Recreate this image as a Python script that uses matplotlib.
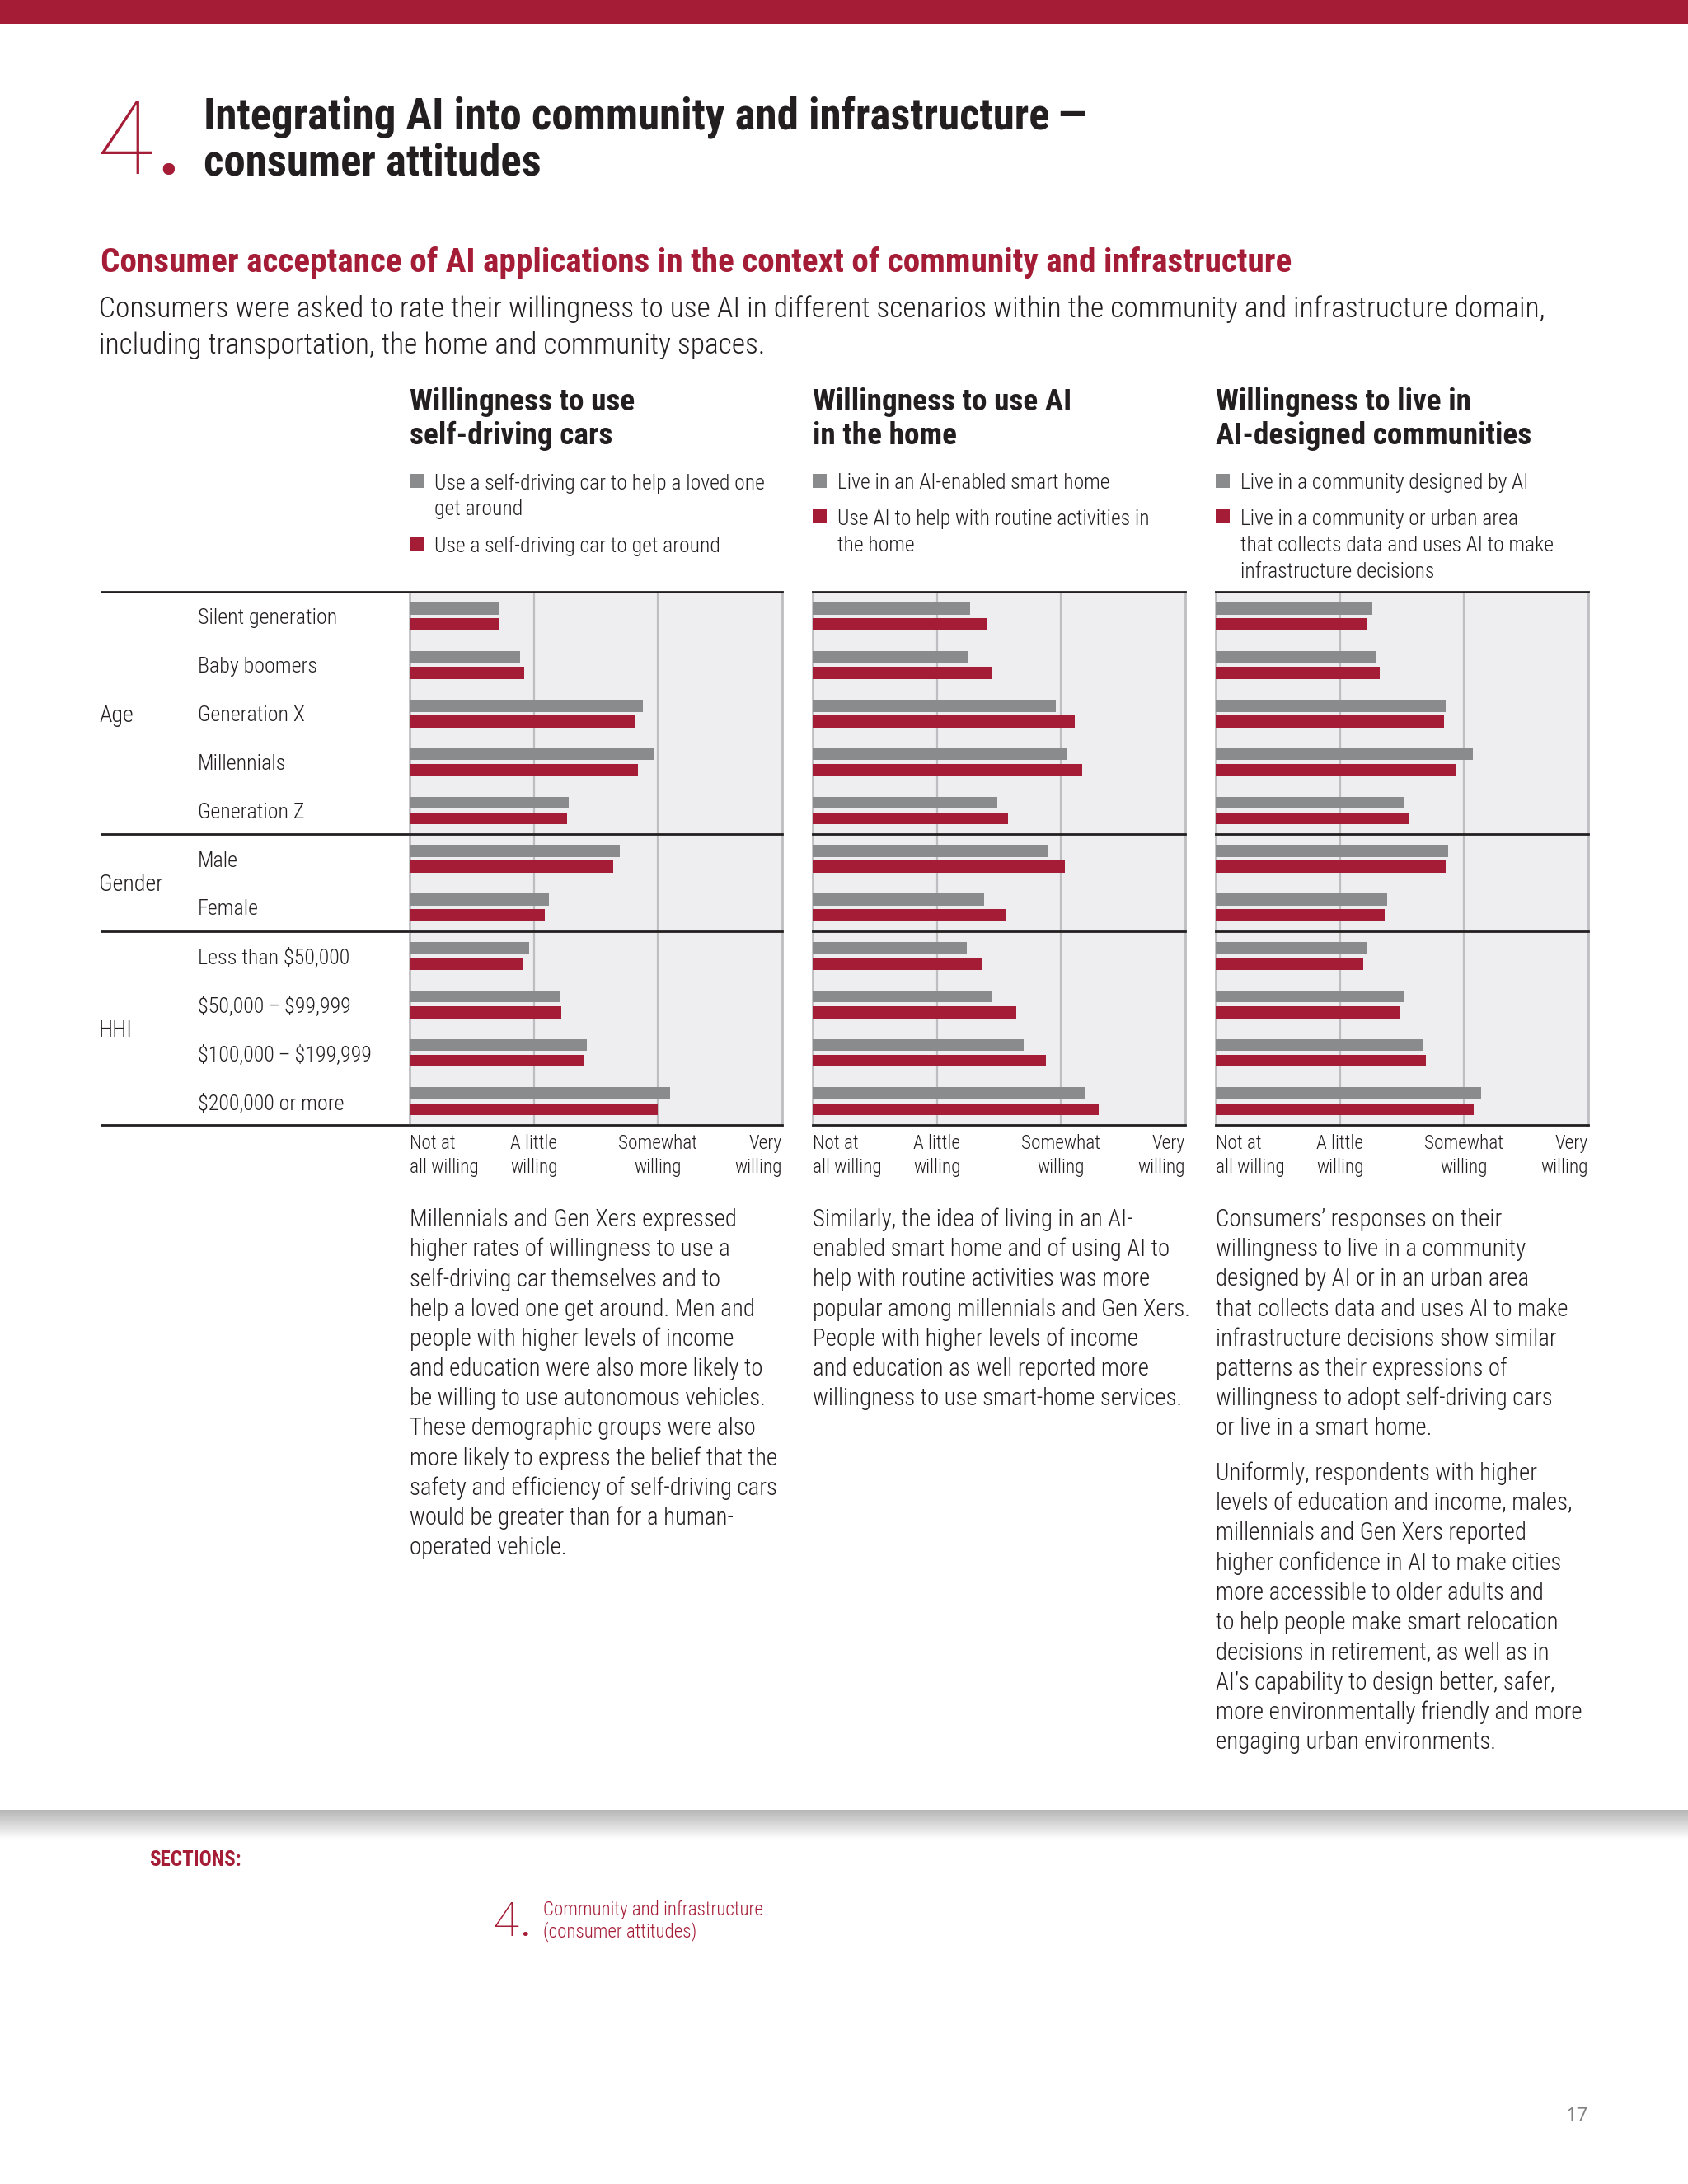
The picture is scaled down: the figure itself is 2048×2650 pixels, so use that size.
import numpy as np
import matplotlib
matplotlib.use('Agg')
import matplotlib.pyplot as plt
from matplotlib import font_manager, transforms
from matplotlib.patches import Rectangle

# ---- data: 0 = not at all willing ... 3 = very willing ----
groups = ['Age', 'Gender', 'HHI']
group_sizes = [5, 2, 4]
rows = ['Silent generation', 'Baby boomers', 'Generation X', 'Millennials', 'Generation Z',
        'Male', 'Female',
        'Less than \\$50,000', '\\$50,000\u2009\u2013\u2009\\$99,999',
        '\\$100,000\u2009\u2013\u2009\\$199,999', '\\$200,000 or more']
ticks = ['Not at\nall willing', 'A little\nwilling', 'Somewhat\nwilling', 'Very\nwilling']

cars_loved_one = [0.72, 0.89, 1.88, 1.97, 1.28, 1.69, 1.12, 0.96, 1.21, 1.43, 2.10]
cars_self = [0.72, 0.92, 1.81, 1.84, 1.27, 1.64, 1.09, 0.91, 1.22, 1.41, 2.00]
home_smart = [1.27, 1.25, 1.96, 2.05, 1.49, 1.90, 1.38, 1.24, 1.45, 1.70, 2.20]
home_routine = [1.40, 1.45, 2.11, 2.17, 1.57, 2.03, 1.55, 1.37, 1.64, 1.88, 2.30]
comm_designed = [1.26, 1.29, 1.85, 2.07, 1.51, 1.87, 1.38, 1.22, 1.52, 1.67, 2.14]
comm_data = [1.22, 1.32, 1.84, 1.94, 1.55, 1.85, 1.36, 1.19, 1.49, 1.69, 2.08]

RED = '#A51C36'
GRAY = '#8A8B8D'
BG = '#EEEDF0'
GRID = '#BEBEC2'
INK = '#231F20'

W, H = 2048, 2650
DY = 3  # small downward nudge for text centres

names = {f.name for f in font_manager.fontManager.ttflist}
def pick(*cands):
    for c in cands:
        if c in names:
            return c
    return 'DejaVu Sans'

NARROW = pick('Liberation Sans Narrow', 'Roboto Condensed', 'Open Sans Condensed', 'Open Sans', 'Noto Sans')
WIDE = pick('Open Sans', 'Noto Sans', 'Lato')
THIN = pick('Roboto', 'Lato', 'Open Sans')
LIGHT = 'light'

fig = plt.figure(figsize=(W / 100, H / 100), dpi=100)
page = fig.add_axes([0, 0, 1, 1])
page.set_xlim(0, W)
page.set_ylim(H, 0)
page.axis('off')
R = fig.canvas.get_renderer()


def txt(x, y, s, size, fam=NARROW, **kw):
    kw.setdefault('color', INK)
    kw.setdefault('va', 'center')
    kw.setdefault('weight', LIGHT)
    if kw['va'] == 'center':
        y = y + DY
    return page.text(x, y, s, fontsize=size, family=[fam, 'DejaVu Sans'], **kw)


def fit_size(s, target, weight=LIGHT, fam=NARROW):
    t = page.text(0, 0, s, fontsize=20, family=[fam, 'DejaVu Sans'], weight=weight)
    w = t.get_window_extent(R).width
    t.remove()
    return 20 * target / w


def lines(x, y0, dy, text_lines, size, **kw):
    for i, s in enumerate(text_lines):
        txt(x, y0 + i * dy, s, size, **kw)


# ---- header ----
page.add_patch(Rectangle((0, 0), W, 29, color=RED, lw=0))
txt(118, 211, '4', 89, THIN, color=RED, va='baseline', weight='light')
txt(192, 211, '.', 60, WIDE, color=RED, va='baseline', weight='bold')

title1 = 'Integrating AI into community and infrastructure\u2009\u2014'
s_title = fit_size(title1, 1068, 'semibold')
txt(247, 139, title1, s_title, weight='semibold')
txt(247, 195, 'consumer attitudes', s_title, weight='semibold')

sub = 'Consumer acceptance of AI applications in the context of community and infrastructure'
txt(122, 316, sub, fit_size(sub, 1441, 'bold'), weight='bold', color=RED)
intro1 = ('Consumers were asked to rate their willingness to use AI in different scenarios within '
          'the community and infrastructure domain,')
s_intro = fit_size(intro1, 1751)
txt(120, 372, intro1, s_intro)
txt(120, 416, 'including transportation, the home and community spaces.', s_intro)

# ---- panels ----
panels = [
    dict(x=497, gray=cars_loved_one, red=cars_self,
         title=['Willingness to use', 'self-driving cars'],
         legend=[(['Use a self-driving car to help a loved one', 'get around'], GRAY),
                 (['Use a self-driving car to get around'], RED)],
         text=[['Millennials and Gen Xers expressed',
                'higher rates of willingness to use a',
                'self-driving car themselves and to',
                'help a loved one get around. Men and',
                'people with higher levels of income',
                'and education were also more likely to',
                'be willing to use autonomous vehicles.',
                'These demographic groups were also',
                'more likely to express the belief that the',
                'safety and efficiency of self-driving cars',
                'would be greater than for a human-',
                'operated vehicle.']]),
    dict(x=986, gray=home_smart, red=home_routine,
         title=['Willingness to use AI', 'in the home'],
         legend=[(['Live in an AI-enabled smart home'], GRAY),
                 (['Use AI to help with routine activities in', 'the home'], RED)],
         text=[['Similarly, the idea of living in an AI-',
                'enabled smart home and of using AI to',
                'help with routine activities was more',
                'popular among millennials and Gen Xers.',
                'People with higher levels of income',
                'and education as well reported more',
                'willingness to use smart-home services.']]),
    dict(x=1475, gray=comm_designed, red=comm_data,
         title=['Willingness to live in', 'AI-designed communities'],
         legend=[(['Live in a community designed by AI'], GRAY),
                 (['Live in a community or urban area',
                   'that collects data and uses AI to make',
                   'infrastructure decisions'], RED)],
         text=[['Consumers\u2019 responses on their',
                'willingness to live in a community',
                'designed by AI or in an urban area',
                'that collects data and uses AI to make',
                'infrastructure decisions show similar',
                'patterns as their expressions of',
                'willingness to adopt self-driving cars',
                'or live in a smart home.'],
               ['Uniformly, respondents with higher',
                'levels of education and income, males,',
                'millennials and Gen Xers reported',
                'higher confidence in AI to make cities',
                'more accessible to older adults and',
                'to help people make smart relocation',
                'decisions in retirement, as well as in',
                'AI\u2019s capability to design better, safer,',
                'more environmentally friendly and more',
                'engaging urban environments.']]),
]

s_head = fit_size('Willingness to use AI', 313, 'bold')
s_leg = fit_size('Use a self-driving car to help a loved one', 399)
s_par = fit_size('more likely to express the belief that the', 446)
s_tick = fit_size('all willing', 83)
s_row = fit_size('Less than \\$50,000', 184)

bounds = np.cumsum([0] + group_sizes)
y = np.arange(len(rows))
axes = []
for p in panels:
    x0 = p['x']
    ax = fig.add_axes([x0 / W, 1 - 1365 / H, 452 / W, 647 / H])
    axes.append(ax)
    ax.set_facecolor(BG)
    ax.barh(y + 0.35, p['gray'], height=0.25, color=GRAY, zorder=3)
    ax.barh(y + 0.675, p['red'], height=0.25, color=RED, zorder=3)
    ax.set_xlim(0, 3)
    ax.set_ylim(len(rows), 0)
    for v in (1, 2):
        ax.axvline(v, color=GRID, lw=1.6, zorder=1)
    for s in ('top', 'bottom'):
        ax.spines[s].set_visible(False)
    for s in ('left', 'right'):
        ax.spines[s].set_color(GRID)
        ax.spines[s].set_linewidth(2)
    for b in bounds:
        ax.axhline(b, color=INK, lw=2, zorder=5, clip_on=False)
    ax.set_yticks([])
    ax.set_xticks(range(4), ticks)
    ax.tick_params(axis='x', length=0, pad=8)
    for lab, ha in zip(ax.get_xticklabels(), ['left', 'center', 'center', 'right']):
        lab.set_ha(ha)
        lab.set_multialignment(ha)
        lab.set_fontsize(s_tick)
        lab.set_family([NARROW, 'DejaVu Sans'])
        lab.set_weight(LIGHT)
        lab.set_color(INK)
        lab.set_linespacing(1.3)

    lines(x0, 485, 40.6, p['title'], s_head, weight='bold')

    yy = 583
    for item, col in p['legend']:
        page.add_patch(Rectangle((x0, yy - 8.5), 17, 17, color=col, lw=0))
        lines(x0 + 30, yy, 32.1, item, s_leg)
        yy += 32.1 * (len(item) - 1) + 43.9

    yy = 1477
    for para in p['text']:
        lines(x0, yy, 36.2, para, s_par)
        yy += 36.2 * (len(para) - 1) + 54.5

# row and group labels, positioned on the first panel's row scale
blend = transforms.blended_transform_factory(page.transData, axes[0].transData)
off = transforms.offset_copy(blend, fig=fig, y=-DY * 72 / 100, units='points')
for i, r in enumerate(rows):
    page.text(240, i + 0.5, r, transform=off, fontsize=s_row, family=[NARROW, 'DejaVu Sans'],
              weight=LIGHT, color=INK, va='center')
for g, name in enumerate(groups):
    page.text(120, (bounds[g] + bounds[g + 1]) / 2, name, transform=off, fontsize=s_row * 1.08,
              family=[NARROW, 'DejaVu Sans'], weight=LIGHT, color=INK, va='center')
for b in bounds:
    page.plot([122, 497], [b, b], transform=blend, color=INK, lw=2, solid_capstyle='butt')

# ---- footer ----
shade = np.linspace(0.80, 1.0, 40) ** 1.5
shade = np.tile(shade[:, None], (1, 2))
page.imshow(shade, cmap='gray', vmin=0, vmax=1, extent=(0, W, 2232, 2196), aspect='auto',
            interpolation='bilinear')
page.set_xlim(0, W)
page.set_ylim(H, 0)

txt(181, 2254, 'SECTIONS:', fit_size('SECTIONS:', 112, 'bold'), weight='bold', color=RED)
txt(598, 2349, '4', 42, THIN, color=RED, va='baseline', weight='light')
txt(632, 2349, '.', 24, WIDE, color=RED, va='baseline', weight='bold')
s_foot = fit_size('Community and infrastructure', 267)
txt(659, 2314, 'Community and infrastructure', s_foot, color=RED)
txt(659, 2341, '(consumer attitudes)', s_foot, color=RED)
txt(1927, 2565, '17', 17, WIDE, color='#7F7F80', ha='right', weight='normal')

fig.savefig('out.png', dpi=100)
